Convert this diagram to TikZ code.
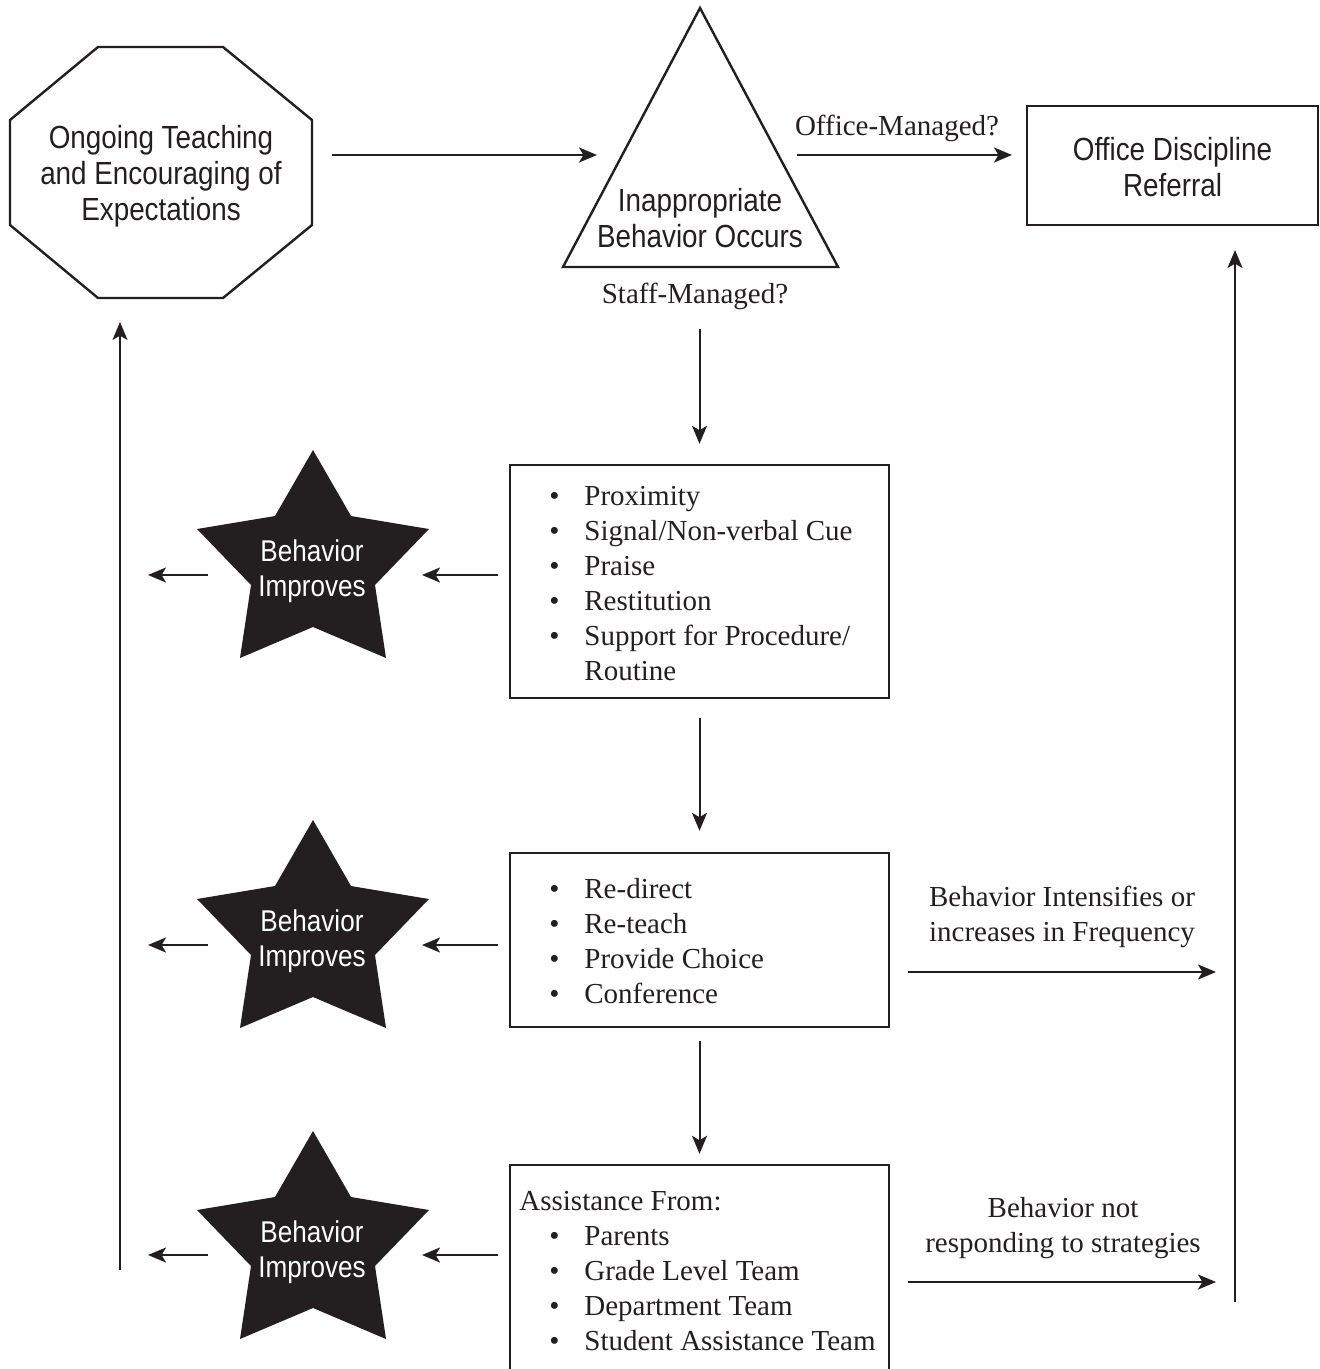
\documentclass[tikz,border=0pt]{standalone}
\usepackage{fontspec}
\setmainfont{Liberation Serif}
\newfontfamily\condsans[FakeStretch=0.87]{Liberation Sans}
\usetikzlibrary{arrows.meta}
\newcommand{\fstrut}{\rule{0pt}{12pt}}
\newcommand{\bul}{\makebox[17.5pt][l]{\textbullet}}
\definecolor{ink}{HTML}{231F20}
\begin{document}
\begin{tikzpicture}[x=0.5pt,y=-0.5pt,
  arr/.style={draw=ink, line width=1pt, -{Stealth[length=9pt,width=7.5pt,inset=2.2pt]}},
  outline/.style={draw=ink, line width=1.2pt, line join=miter},
  sanslbl/.style={font=\condsans\fontsize{16}{18}\selectfont, align=center, inner sep=0pt, text=ink},
  starlbl/.style={font=\condsans\fontsize{15}{17.5}\selectfont, align=center, inner sep=0pt, text=white},
  serlbl/.style={font=\fontsize{14.5}{17.5}\selectfont, align=center, inner sep=0pt, text=ink},
  listlbl/.style={font=\fontsize{14.5}{17.5}\selectfont, align=left, inner sep=0pt, anchor=north west, text=ink},
  boxnode/.style={draw=ink, line width=1.2pt, inner sep=0pt, minimum width=189.5pt},
  starfill/.style={fill=ink}
]
\useasboundingbox (0,0) rectangle (1320,1369);
\clip (0,0) rectangle (1320,1369);

% octagon
\draw[outline] (98,47) -- (223,47) -- (312,120) -- (312,225) -- (223,298) -- (98,298) -- (10,225) -- (10,120) -- cycle;
\node[sanslbl, anchor=north] (teach) at (161,124) {\fstrut Ongoing Teaching\\and Encouraging of\\Expectations};

% triangle
\draw[outline] (700,8) -- (838,267) -- (563,267) -- cycle;
\node[sanslbl, anchor=north] (inapp) at (700,187) {\fstrut Inappropriate\\Behavior Occurs};
\node[serlbl, anchor=base] (staff) at (695,304) {Staff-Managed?};

% office box
\node[boxnode, minimum width=145.5pt, minimum height=59.5pt] (office) at (1172.5,165.5) {};
\node[sanslbl, anchor=north] (officetxt) at (1172.5,136) {\fstrut Office Discipline\\Referral};
\node[serlbl, anchor=base] (offlbl) at (897,136) {Office-Managed?};

% strategy boxes
\node[boxnode, minimum height=116.5pt] (box1) at (699.5,581.5) {};
\node[listlbl] (list1) at (549,481) {\fstrut\bul Proximity\\ \bul Signal/Non-verbal Cue\\ \bul Praise\\ \bul Restitution\\ \bul Support for Procedure/\\ \hspace*{17.5pt}Routine};

\node[boxnode, minimum height=87pt] (box2) at (699.5,940) {};
\node[listlbl] (list2) at (549,874) {\fstrut\bul Re-direct\\ \bul Re-teach\\ \bul Provide Choice\\ \bul Conference};

\node[boxnode, minimum height=115pt] (box3) at (699.5,1280) {};
\node[listlbl] (list3) at (519,1186) {\fstrut Assistance From:\\ \hspace*{15pt}\bul Parents\\ \hspace*{15pt}\bul Grade Level Team\\ \hspace*{15pt}\bul Department Team\\ \hspace*{15pt}\bul Student Assistance Team};

% stars
\foreach \T/\i in {450/1,820/2,1131/3}{
  \fill[starfill, shift={(313,\T)}] (0,0) -- (38,66) -- (116,79) -- (62,135) -- (73,208) -- (0,177) -- (-73,208) -- (-62,135) -- (-116,79) -- (-38,66) -- cycle;
  \node[starlbl, anchor=north] (star\i) at (312,{\T+87}) {\fstrut Behavior\\Improves};
}

% side labels
\node[serlbl, anchor=north] (intens) at (1062,882) {\fstrut Behavior Intensifies or\\increases in Frequency};
\node[serlbl, anchor=north] (notresp) at (1063,1193) {\fstrut Behavior not\\responding to strategies};

% connector end points
\coordinate (c1a) at (332,155);  \coordinate (c1b) at (597,155);
\coordinate (c2a) at (797,155);  \coordinate (c2b) at (1012,155);
\coordinate (r1a) at (498,575);  \coordinate (r1b) at (422,575);
\coordinate (l1a) at (208,575);  \coordinate (l1b) at (148,575);
\coordinate (r2a) at (498,945);  \coordinate (r2b) at (422,945);
\coordinate (l2a) at (208,945);  \coordinate (l2b) at (148,945);
\coordinate (r3a) at (498,1255); \coordinate (r3b) at (422,1255);
\coordinate (l3a) at (208,1255); \coordinate (l3b) at (148,1255);
\coordinate (e2a) at (908,972);  \coordinate (e2b) at (1216,972);
\coordinate (e3a) at (908,1282); \coordinate (e3b) at (1216,1282);
\coordinate (upRa) at (1235,1302); \coordinate (upRb) at (1235,250);
\coordinate (upLa) at (120,1270);  \coordinate (upLb) at (120,322);

\draw[arr] (c1a) -- (c1b);
\draw[arr] (c2a) -- (c2b);
\draw[arr, shorten <=9pt, shorten >=10pt] (box1.north |- staff.south) -- (box1.north);
\draw[arr, shorten <=9.5pt, shorten >=10.5pt] (box1.south) -- (box2.north);
\draw[arr, shorten <=6.5pt, shorten >=5pt] (box2.south) -- (box3.north);
\foreach \k in {1,2,3}{
  \draw[arr] (r\k a) -- (r\k b);
  \draw[arr] (l\k a) -- (l\k b);
}
\draw[arr] (e2a) -- (e2b);
\draw[arr] (e3a) -- (e3b);
\draw[arr] (upRa) -- (upRb);
\draw[arr] (upLa) -- (upLb);
\end{tikzpicture}
\end{document}
